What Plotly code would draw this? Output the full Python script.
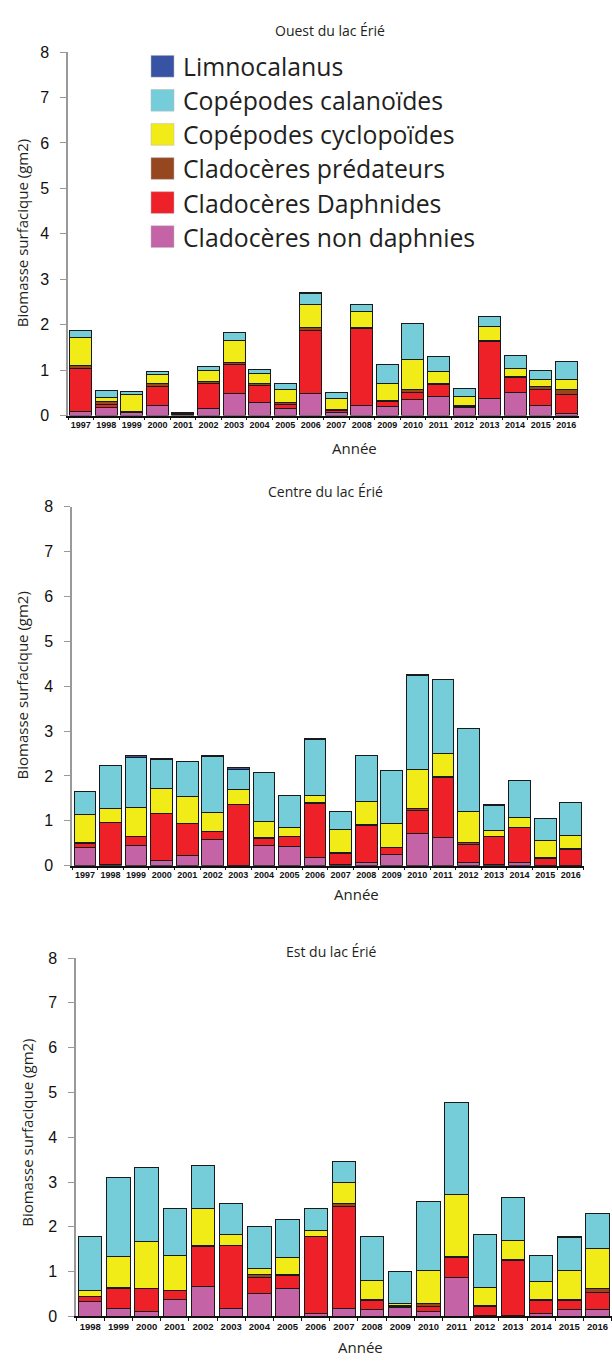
import plotly.graph_objects as go

# ---------------- data ----------------
series_names = ["Cladocères non daphnies", "Cladocères Daphnides", "Cladocères prédateurs",
                "Copépodes cyclopoïdes", "Copépodes calanoïdes", "Limnocalanus"]
series_colors = ["#C463A6", "#EE2028", "#96471F", "#F1EB18", "#74CDD9", "#3953A4"]

years_ouest = [str(y) for y in range(1997, 2017)]
non_daph_ouest = [0.09, 0.17, 0.06, 0.22, 0.02, 0.16, 0.48, 0.28, 0.16, 0.48, 0.07, 0.22, 0.20, 0.36, 0.43, 0.17, 0.38, 0.51, 0.22, 0.04]
daph_ouest     = [0.95, 0.08, 0.02, 0.43, 0.02, 0.55, 0.65, 0.39, 0.09, 1.39, 0.04, 1.70, 0.10, 0.15, 0.25, 0.03, 1.24, 0.33, 0.36, 0.43]
pred_ouest     = [0.06, 0.05, 0.02, 0.06, 0.01, 0.04, 0.04, 0.03, 0.04, 0.07, 0.03, 0.02, 0.04, 0.06, 0.02, 0.02, 0.03, 0.03, 0.06, 0.11]
cyclo_ouest    = [0.62, 0.10, 0.37, 0.20, 0.01, 0.25, 0.48, 0.22, 0.28, 0.51, 0.24, 0.34, 0.36, 0.67, 0.26, 0.21, 0.31, 0.16, 0.16, 0.22]
calan_ouest    = [0.16, 0.16, 0.05, 0.05, 0.01, 0.07, 0.18, 0.09, 0.14, 0.23, 0.13, 0.17, 0.43, 0.79, 0.33, 0.16, 0.22, 0.30, 0.20, 0.39]
limno_ouest    = [0.00, 0.00, 0.00, 0.00, 0.00, 0.00, 0.00, 0.00, 0.00, 0.03, 0.00, 0.00, 0.00, 0.00, 0.00, 0.00, 0.00, 0.00, 0.00, 0.00]

years_centre = [str(y) for y in range(1997, 2017)]
non_daph_centre = [0.40, 0.02, 0.46, 0.12, 0.22, 0.59, 0.01, 0.45, 0.42, 0.18, 0.02, 0.07, 0.26, 0.72, 0.62, 0.07, 0.02, 0.07, 0.01, 0.01]
daph_centre     = [0.10, 0.94, 0.18, 1.04, 0.72, 0.17, 1.35, 0.16, 0.23, 1.20, 0.26, 0.83, 0.14, 0.50, 1.34, 0.40, 0.62, 0.77, 0.16, 0.36]
pred_centre     = [0.01, 0.01, 0.01, 0.01, 0.01, 0.01, 0.01, 0.01, 0.01, 0.02, 0.02, 0.01, 0.01, 0.06, 0.03, 0.04, 0.01, 0.01, 0.01, 0.02]
cyclo_centre    = [0.62, 0.30, 0.65, 0.55, 0.60, 0.41, 0.33, 0.37, 0.18, 0.17, 0.50, 0.53, 0.53, 0.86, 0.52, 0.69, 0.13, 0.23, 0.37, 0.28]
calan_centre    = [0.53, 0.96, 1.12, 0.64, 0.77, 1.26, 0.45, 1.09, 0.72, 1.24, 0.40, 1.02, 1.17, 2.10, 1.64, 1.85, 0.56, 0.81, 0.50, 0.74]
limno_centre    = [0.00, 0.00, 0.03, 0.02, 0.00, 0.02, 0.03, 0.00, 0.00, 0.03, 0.00, 0.00, 0.00, 0.02, 0.00, 0.00, 0.02, 0.00, 0.00, 0.00]

years_est = [str(y) for y in range(1998, 2017)]
non_daph_est = [0.34, 0.18, 0.12, 0.38, 0.67, 0.18, 0.52, 0.62, 0.06, 0.18, 0.15, 0.21, 0.12, 0.87, 0.02, 0.02, 0.07, 0.16, 0.16]
daph_est     = [0.10, 0.44, 0.50, 0.19, 0.89, 1.40, 0.36, 0.30, 1.72, 2.28, 0.21, 0.02, 0.11, 0.44, 0.21, 1.24, 0.29, 0.20, 0.37]
pred_est     = [0.01, 0.03, 0.01, 0.01, 0.03, 0.01, 0.05, 0.01, 0.01, 0.07, 0.01, 0.01, 0.07, 0.02, 0.01, 0.01, 0.01, 0.02, 0.09]
cyclo_est    = [0.13, 0.69, 1.05, 0.78, 0.83, 0.23, 0.13, 0.39, 0.13, 0.47, 0.44, 0.04, 0.72, 1.40, 0.41, 0.42, 0.42, 0.64, 0.89]
calan_est    = [1.21, 1.76, 1.64, 1.05, 0.94, 0.70, 0.94, 0.85, 0.49, 0.45, 0.98, 0.73, 1.55, 2.04, 1.19, 0.96, 0.57, 0.74, 0.79]
limno_est    = [0.00, 0.00, 0.00, 0.00, 0.02, 0.00, 0.00, 0.00, 0.00, 0.00, 0.00, 0.00, 0.00, 0.00, 0.00, 0.00, 0.00, 0.02, 0.00]

panel_titles = ["Ouest du lac Érié", "Centre du lac Érié", "Est du lac Érié"]
y_title = "Biomasse surfacique (gm2)"
x_title = "Année"
y_ticks = [0, 1, 2, 3, 4, 5, 6, 7, 8]

# ---------------- layout helpers ----------------
W, H = 612, 1364
def fx(x): return x / W
def fy(y): return 1 - y / H

panels = [
    dict(years=years_ouest,
         vals=[non_daph_ouest, daph_ouest, pred_ouest, cyclo_ouest, calan_ouest, limno_ouest],
         x0=68, x1=579, ytop=44.7, ybot=412.7, width=0.86, tick=9,
         title_xy=(330, 23), ytitle_xy=(22, 228), xtitle_xy=(354, 446)),
    dict(years=years_centre,
         vals=[non_daph_centre, daph_centre, pred_centre, cyclo_centre, calan_centre, limno_centre],
         x0=72.2, x1=583.5, ytop=505, ybot=868.5, width=0.85, tick=9,
         title_xy=(325, 490), ytitle_xy=(22, 686), xtitle_xy=(356, 897)),
    dict(years=years_est,
         vals=[non_daph_est, daph_est, pred_est, cyclo_est, calan_est, limno_est],
         x0=76.2, x1=611.6, ytop=962, ybot=1325, width=0.83, tick=9.5,
         title_xy=(331, 955), ytitle_xy=(27, 1139), xtitle_xy=(360, 1356)),
]

fig = go.Figure()
annotations = []
shapes = []
layout_axes = {}

for i, p in enumerate(panels):
    sfx = "" if i == 0 else str(i + 1)
    for name, color, vals in zip(series_names, series_colors, p["vals"]):
        fig.add_trace(go.Bar(
            x=p["years"], y=vals, name=name, showlegend=False,
            width=p["width"],
            marker=dict(color=color, line=dict(color="#1a1a1a", width=1)),
            xaxis="x" + sfx, yaxis="y" + sfx,
        ))
    n = len(p["years"])
    layout_axes["xaxis" + sfx] = dict(
        domain=[fx(p["x0"]), fx(p["x1"])], anchor="y" + sfx, type="category",
        range=[-0.5, n - 0.5], showline=True, linecolor="#111", linewidth=1.5,
        ticks="outside", tickson="boundaries", ticklen=3, tickcolor="#111",
        tickfont=dict(family="Liberation Sans, Arial", size=p["tick"], color="#111", weight="bold"),
        showgrid=False, zeroline=False, tickangle=0,
    )
    layout_axes["yaxis" + sfx] = dict(
        domain=[fy(p["ybot"]), fy(p["ytop"])], anchor="x" + sfx,
        range=[0, 8], tickvals=y_ticks, showline=True, linecolor="#999", linewidth=1.5,
        ticks="outside", ticklen=6, tickcolor="#999", ticklabelstandoff=8,
        tickfont=dict(family="Liberation Sans, Arial", size=16, color="#111"),
        showgrid=False, zeroline=False,
    )
    tx, ty = p["title_xy"]
    annotations.append(dict(text=panel_titles[i], x=fx(tx), y=fy(ty), xref="paper", yref="paper",
                            showarrow=False, xanchor="center", yanchor="middle",
                            font=dict(family="Open Sans", size=14, color="#231F20")))
    ax_, ay_ = p["ytitle_xy"]
    annotations.append(dict(text=y_title, x=fx(ax_), y=fy(ay_), xref="paper", yref="paper",
                            showarrow=False, xanchor="center", yanchor="middle", textangle=-90,
                            font=dict(family="Open Sans", size=15, color="#231F20")))
    bx, by = p["xtitle_xy"]
    annotations.append(dict(text=x_title, x=fx(bx), y=fy(by), xref="paper", yref="paper",
                            showarrow=False, xanchor="center", yanchor="middle",
                            font=dict(family="Open Sans", size=15, color="#231F20")))

# legend (drawn in top panel), top to bottom
legend_order = list(zip(series_names, series_colors))[::-1]
legend_y = [59, 93.5, 128, 162.5, 197, 231.5]
for (name, color), cy in zip(legend_order, legend_y):
    shapes.append(dict(type="rect", xref="paper", yref="paper",
                       x0=fx(151), x1=fx(174), y0=fy(cy + 11), y1=fy(cy - 11),
                       fillcolor=color, line=dict(color="#bbbbbb", width=0.5)))
    annotations.append(dict(text=name, x=fx(181), y=fy(cy), xref="paper", yref="paper",
                            showarrow=False, xanchor="left", yanchor="middle",
                            font=dict(family="Open Sans", size=24.8, color="#231F20")))

fig.update_layout(
    width=W, height=H, margin=dict(l=0, r=0, t=0, b=0),
    barmode="stack", plot_bgcolor="white", paper_bgcolor="white",
    annotations=annotations, shapes=shapes, showlegend=False,
    **layout_axes,
)

fig.write_html("out.html")
